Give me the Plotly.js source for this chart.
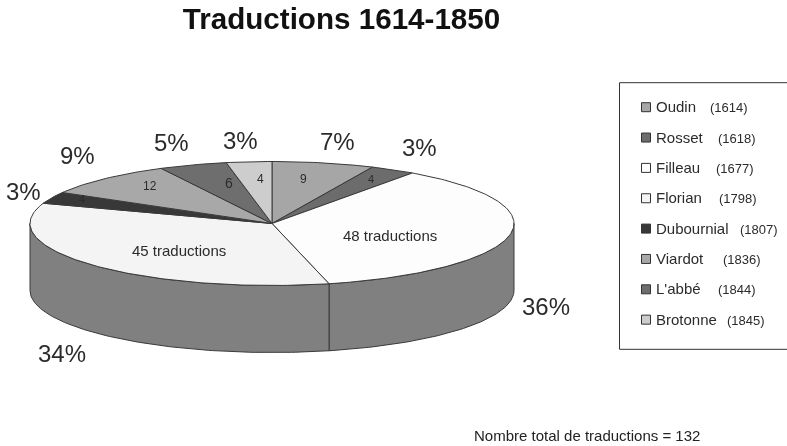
<!DOCTYPE html>
<html><head><meta charset="utf-8">
<script src="https://cdn.plot.ly/plotly-3.0.1.min.js"></script>
<style>html,body{margin:0;padding:0;background:#fff}#c{width:787px;height:446px;filter:blur(0.4px)}</style>
</head><body><div id="c"></div>
<script>
const authors = ["Oudin","Rosset","Filleau","Florian","Dubournial","Viardot","L'abbé","Brotonne"];
const years = [1614,1618,1677,1798,1807,1836,1844,1845];
const counts = [9,4,48,45,4,12,6,4];
const sliceLabels = ["9","4","48 traductions","45 traductions","4","12","6","4"];
const colors = ["#a6a6a6","#6c6c6c","#fdfdfd","#f4f4f4","#383838","#a8a8a8","#6e6e6e","#cdcdcd"];

// page geometry (pixels)
const W=787,H=446,cx=272,cy=223.5,rx=242,ry=62,depth=67/62;
const total=counts.reduce((a,b)=>a+b,0);
// data space: unit ellipse; axes map it to pixels
const xRange=[(0-cx)/rx,(W-cx)/rx], yRange=[(cy-H)/ry,(cy-0)/ry];
const ux=px=>(px-cx)/rx, uy=py=>(cy-py)/ry;
const arc=(a,b,z=0)=>{const xs=[],ys=[],n=Math.max(2,Math.ceil(Math.abs(b-a)));
  for(let i=0;i<=n;i++){const t=(a+(b-a)*i/n)*Math.PI/180;xs.push(Math.sin(t));ys.push(Math.cos(t)-z);}
  return [xs,ys];};
const edge="#3a3a3a";
const traces=[];
let acc=0;
const wedges=[];
counts.forEach((v,i)=>{
  const a=acc/total*360,b=(acc+v)/total*360;acc+=v;
  const lo=Math.max(a,90),hi=Math.min(b,270);
  if(hi>lo){
    const [x1,y1]=arc(lo,hi),[x2,y2]=arc(hi,lo,depth);
    traces.push({type:"scatter",mode:"lines",x:[...x1,...x2,x1[0]],y:[...y1,...y2,y1[0]],fill:"toself",
      fillcolor:"#808080",line:{color:edge,width:1},hoverinfo:"skip",showlegend:false});
  }
  const [xs,ys]=arc(a,b);
  wedges.push({type:"scatter",mode:"lines",x:[0,...xs,0],y:[0,...ys,0],fill:"toself",
    fillcolor:colors[i],line:{color:edge,width:1},name:authors[i],showlegend:false,
    text:authors[i]+" ("+years[i]+"): "+v,hoverinfo:"text"});
});
traces.push(...wedges);

// label placement (pixels)
const pctPos=[[337,141],[419,147],[546,306],[62,353],[23,191],[77,155],[171,142],[240,140]];
const slicePos=[[303,179],[371,179],[390,235],[179,250],[82,199],[150,186],[229,183],[260,179]];
const sliceSize=[12,11,15,15,11,12,14,12];
const legendY=i=>106.7+30.35*i;
const yearX=[710,718,716,719,740,723,718,727];

const font="Liberation Sans, Arial, sans-serif";
const ann=(x,y,text,size,extra={})=>Object.assign({xref:"x",yref:"y",x:ux(x),y:uy(y),text,showarrow:false,
  font:{family:font,size,color:"#2b2b2b"},xanchor:"center",yanchor:"middle"},extra);
const annotations=[];
counts.forEach((v,i)=>{
  annotations.push(ann(pctPos[i][0],pctPos[i][1],Math.round(v/total*100)+"%",24));
  annotations.push(ann(slicePos[i][0],slicePos[i][1],sliceLabels[i],sliceSize[i]));
  annotations.push(ann(656,legendY(i),authors[i],15,{xanchor:"left",xshift:-2}));
  annotations.push(ann(yearX[i],legendY(i)+1,"("+years[i]+")",13,{xanchor:"left",xshift:-2}));
});
annotations.push(ann(587,435,"Nombre total de traductions = 132",15,{font:{family:font,size:15,color:"#222"}}));

traces.push({type:"scatter",mode:"markers",x:authors.map(()=>ux(646)),y:authors.map((a,i)=>uy(legendY(i)+.5)),
  marker:{symbol:"square",size:9,color:colors,line:{color:"#333",width:1}},hoverinfo:"skip",showlegend:false});

const layout={width:W,height:H,margin:{l:0,r:0,t:0,b:0},paper_bgcolor:"#fff",plot_bgcolor:"#fff",showlegend:false,
  title:{text:"<b>Traductions 1614-1850</b>",x:341.5/W,xanchor:"center",y:1-19/H,yanchor:"middle",font:{family:font,size:29.6,color:"#111"}},
  xaxis:{range:xRange,visible:false,fixedrange:true},
  yaxis:{range:yRange,visible:false,fixedrange:true},
  annotations,
  shapes:[{type:"rect",xref:"x",yref:"y",x0:ux(619.5),x1:ux(800),y0:uy(82.7),y1:uy(349.3),line:{color:"#333",width:1},layer:"below"}]};
Plotly.newPlot("c",traces,layout,{displayModeBar:false,staticPlot:true});
</script></body></html>
